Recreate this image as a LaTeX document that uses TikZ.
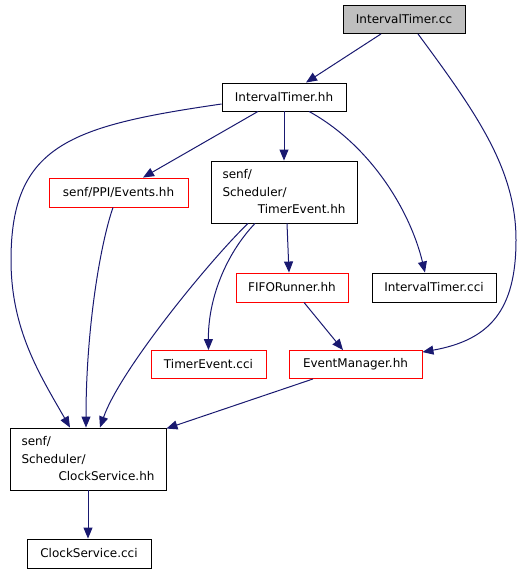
\documentclass[tikz,border=0pt]{standalone}
\usepackage{fontspec}
\setmainfont{DejaVu Sans}
\usepackage{tikz}
\usetikzlibrary{arrows.meta}
\definecolor{edgeblue}{HTML}{191970}
\definecolor{ccgray}{HTML}{BFBFBF}

\begin{document}
\begin{tikzpicture}[x=1pt, y=-1pt,
  file/.style={draw=black, line width=.9pt, inner sep=0pt, minimum height=28pt,
    font=\fontsize{12}{17.5}\selectfont},
  redfile/.style={file, draw=red},
  dep/.style={draw=edgeblue, line width=1pt, -{Triangle[length=11pt, width=9pt]}}]
\useasboundingbox (0,0) rectangle (517,573);
% files
\node[file, fill=ccgray, minimum width=122pt] (cc) at (404,19.5) {IntervalTimer.cc};
\node[file, minimum width=124pt] (hh) at (284,97) {IntervalTimer.hh};
\node[redfile, minimum width=139pt, minimum height=29pt] (ev) at (118.5,192.5) {senf/PPI/Events.hh};
\node[file, minimum height=62pt, minimum width=146pt, align=left] (te) at (284,192)
  {senf/\\Scheduler/\\\makebox[123pt][r]{TimerEvent.hh}};
\node[redfile, minimum width=112pt, minimum height=29pt] (fifo) at (292,287.5) {FIFORunner.hh};
\node[file, minimum width=124pt, minimum height=29pt] (itcci) at (434,287.5) {IntervalTimer.cci};
\node[redfile, minimum width=115pt] (tecci) at (208.5,364.5) {TimerEvent.cci};
\node[redfile, minimum width=133pt] (em) at (355.5,364.5) {EventManager.hh};
\node[file, minimum height=62pt, minimum width=156pt, align=left] (chh) at (88,459)
  {senf/\\Scheduler/\\\makebox[133pt][r]{ClockService.hh}};
\node[file, minimum width=124pt, minimum height=29pt] (ccci) at (89,553.5) {ClockService.cci};
% includes
\draw[dep] ([xshift=-23]cc.south) -- ([xshift=22]hh.north);
\draw[dep] ([xshift=14]cc.south) .. controls (478,115) and (516,170) .. (516,240)
  .. controls (516,310) and (490,340) .. ([yshift=-2]em.north east);
\draw[dep] ([xshift=-26]hh.south) -- ([xshift=24.5]ev.north);
\draw[dep] (hh) -- (te);
\draw[dep] ([xshift=25]hh.south) .. controls (370,145) and (410,210) .. ([xshift=-9]itcci.north);
\draw[dep] ([yshift=-7]hh.west) .. controls (70,126) and (11,145) .. (11,260)
  .. controls (11,330) and (40,375) .. ([xshift=-18]chh.north);
\draw[dep] ([xshift=-5.5]ev.south) .. controls (100,245) and (86,330) .. ([xshift=-2]chh.north);
\draw[dep] ([xshift=-36]te.south) .. controls (210,260) and (120,370) .. ([xshift=12]chh.north);
\draw[dep] ([xshift=-29]te.south) .. controls (225,255) and (208,300) .. (tecci.north);
\draw[dep] ([xshift=3]te.south) -- ([xshift=-3]fifo.north);
\draw[dep] ([xshift=12]fifo.south) -- ([xshift=-12.5]em.north);
\draw[dep] ([xshift=-42.5]em.south) -- ([yshift=-1]chh.north east);
\draw[dep] (chh.south) -- (chh.south |- ccci.north);
\end{tikzpicture}
\end{document}
